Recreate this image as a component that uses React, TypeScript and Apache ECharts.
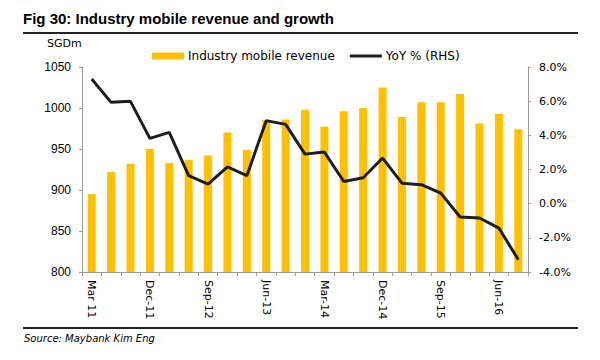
import React, { useEffect, useRef } from "react";
import * as echarts from "echarts";

const categories = [
  "Mar 11", "Jun-11", "Sep-11", "Dec-11",
  "Mar-12", "Jun-12", "Sep-12", "Dec-12",
  "Mar-13", "Jun-13", "Sep-13", "Dec-13",
  "Mar-14", "Jun-14", "Sep-14", "Dec-14",
  "Mar-15", "Jun-15", "Sep-15", "Dec-15",
  "Mar-16", "Jun-16", "Sep-16",
];

const revenue = [
  895, 922, 932, 950, 933, 937, 942, 970, 949, 985, 986, 998,
  977, 996, 1000, 1025, 989, 1007, 1007, 1017, 981, 993, 974,
];

const yoy = [
  7.3, 5.93, 5.99, 3.82, 4.17, 1.64, 1.15, 2.15, 1.64, 4.86, 4.64, 2.9,
  3.02, 1.3, 1.52, 2.67, 1.2, 1.11, 0.62, -0.78, -0.84, -1.43, -3.28,
];

const leftTicks = { min: 800, max: 1050, interval: 50 };
const rightTicks = { min: -4, max: 8, interval: 2 };

const AXIS_GREY = "#9a9a9a";
const BAR_COLOR = "#FFC000";
const LINE_COLOR = "#1e1e1e";

export default function App() {
  const ref = useRef<HTMLDivElement>(null);

  useEffect(() => {
    if (!ref.current) return;
    const chart = echarts.init(ref.current, undefined, { renderer: "svg" });
    chart.setOption({
      animation: false,
      backgroundColor: "#ffffff",
      textStyle: { fontFamily: "DejaVu Sans" },
      grid: { left: 82, right: 72, top: 67, bottom: 88 },
      legend: {
        left: 152,
        top: 50,
        padding: 0,
        itemWidth: 32,
        itemHeight: 7,
        itemGap: 15,
        textStyle: { fontFamily: "DejaVu Sans", fontSize: 12, color: "#000", padding: [0, 0, 0, -1] },
        data: [
          { name: "Industry mobile revenue", icon: "rect" },
          { name: "YoY % (RHS)", icon: "path://M0,0H32V3H0Z" },
        ],
      },
      graphic: [
        {
          type: "text",
          left: 23,
          top: 11,
          style: {
            text: "Fig 30: Industry mobile revenue and growth",
            font: "bold 15px 'Liberation Sans'",
            fill: "#000",
          },
        },
        {
          type: "line",
          shape: { x1: 23, y1: 33, x2: 578, y2: 33 },
          style: { stroke: "#222", lineWidth: 2 },
        },
        {
          type: "text",
          left: 47,
          top: 38,
          style: { text: "SGDm", font: "11px 'DejaVu Sans'", fill: "#000" },
        },
        {
          type: "line",
          shape: { x1: 23, y1: 328, x2: 578, y2: 328 },
          style: { stroke: "#222", lineWidth: 2 },
        },
        {
          type: "text",
          left: 24,
          top: 333,
          style: {
            text: "Source: Maybank Kim Eng",
            font: "italic 10px 'DejaVu Sans'",
            fill: "#000",
          },
        },
      ],
      xAxis: {
        type: "category",
        data: categories,
        boundaryGap: true,
        axisLine: { onZero: false, lineStyle: { color: AXIS_GREY, width: 1 } },
        axisTick: { show: true, interval: 0, length: 4, lineStyle: { color: AXIS_GREY } },
        axisLabel: {
          interval: 2,
          rotate: -90,
          margin: 8,
          fontFamily: "DejaVu Sans",
          fontSize: 11,
          color: "#000",
        },
      },
      yAxis: [
        {
          type: "value",
          position: "left",
          min: leftTicks.min,
          max: leftTicks.max,
          interval: leftTicks.interval,
          splitLine: { show: false },
          axisLine: { show: true, lineStyle: { color: AXIS_GREY } },
          axisTick: { show: true, length: 3, lineStyle: { color: AXIS_GREY } },
          axisLabel: {
            margin: 11,
            fontFamily: "Liberation Sans",
            fontSize: 12,
            color: "#000",
            formatter: (v: number) => String(v),
          },
        },
        {
          type: "value",
          position: "right",
          min: rightTicks.min,
          max: rightTicks.max,
          interval: rightTicks.interval,
          splitLine: { show: false },
          axisLine: { show: true, lineStyle: { color: AXIS_GREY } },
          axisTick: { show: true, length: 3, lineStyle: { color: AXIS_GREY } },
          axisLabel: {
            margin: 11,
            fontFamily: "DejaVu Sans",
            fontSize: 11,
            color: "#000",
            formatter: (v: number) => v.toFixed(1) + "%",
          },
        },
      ],
      series: [
        {
          name: "Industry mobile revenue",
          type: "bar",
          data: revenue,
          barWidth: 8,
          itemStyle: { color: BAR_COLOR },
          yAxisIndex: 0,
        },
        {
          name: "YoY % (RHS)",
          type: "line",
          data: yoy,
          yAxisIndex: 1,
          symbol: "none",
          lineStyle: { color: LINE_COLOR, width: 3 },
          itemStyle: { color: LINE_COLOR },
        },
      ],
    });
    return () => chart.dispose();
  }, []);

  return <div ref={ref} style={{ width: 600, height: 360, margin: -8 }} />;
}
